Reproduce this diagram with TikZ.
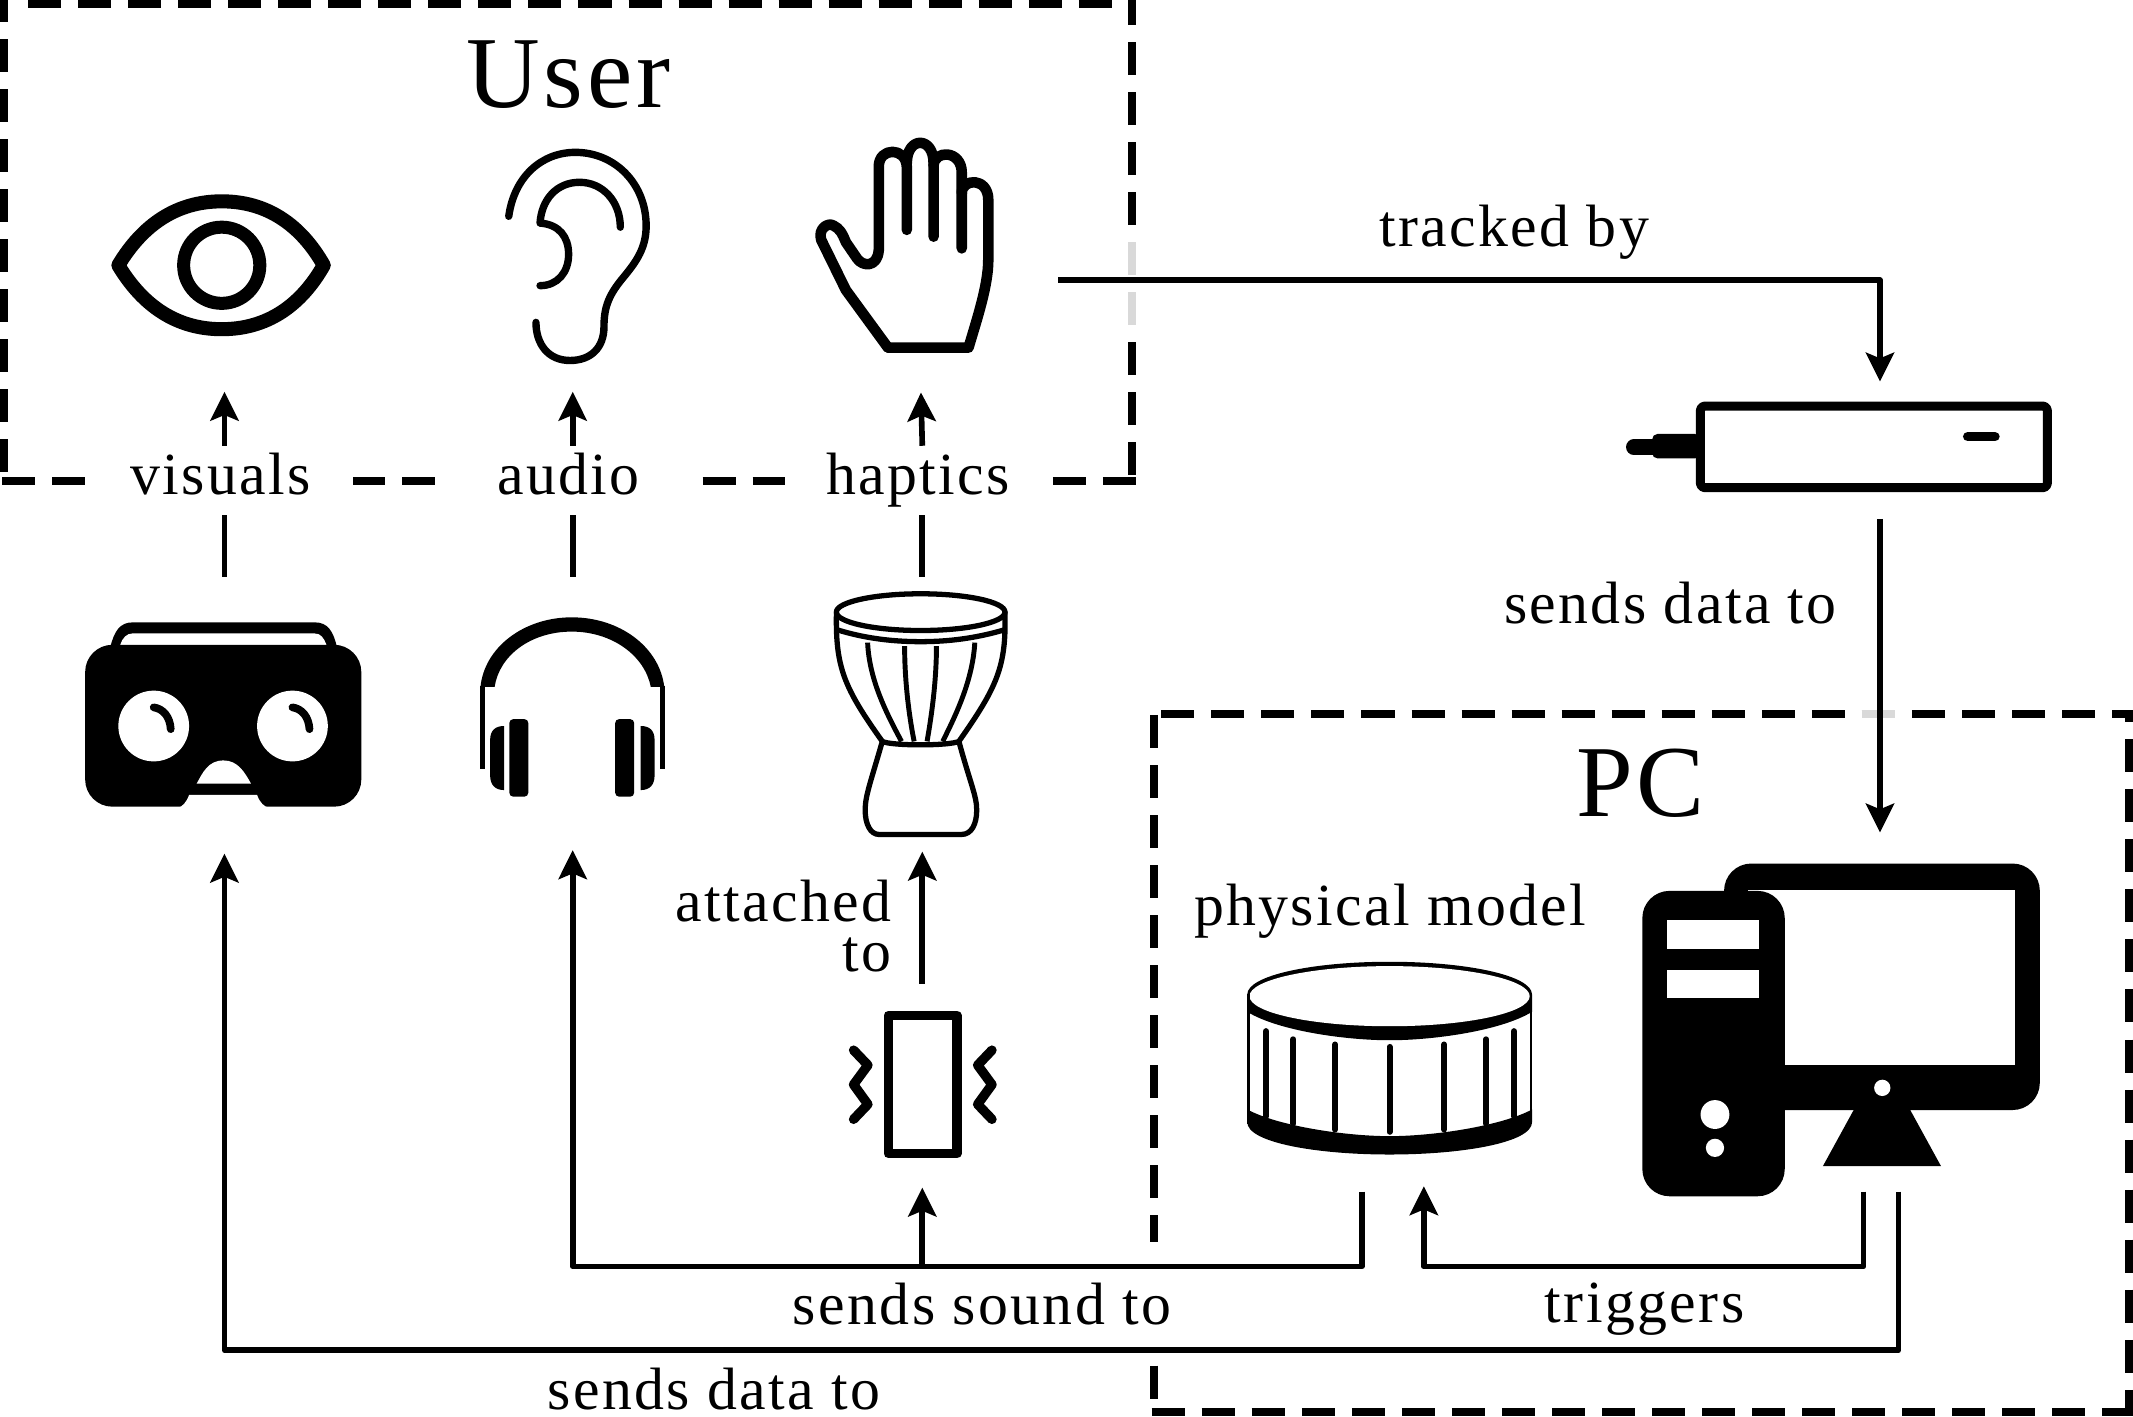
\documentclass[tikz,border=0pt]{standalone}
\usepackage{fontspec}
\setmainfont{Liberation Serif}[LetterSpace=4]
\usetikzlibrary{arrows.meta}
\newcommand{\un}{0.013603cm}

\tikzset{
conn/.style={line width=1.6pt},
dashbox/.style={line width=2.28pt, dash pattern=on 9.39pt off 4.84pt},
greydash/.style={line width=2.28pt, black!15},
icon/.style 2 args={inner sep=0pt, outer sep=0pt, minimum width=#1*\un, minimum height=#2*\un},
lab/.style={inner sep=0pt, font=\fontsize{17}{14.3}\selectfont},
bigtxt/.style={inner sep=0pt, font=\fontsize{29}{30}\selectfont},
gaplab/.style={lab, fill=white, text height=12pt, text depth=4pt, minimum width=195.6*\un, minimum height=49.6*\un},
}

\begin{document}
\begin{tikzpicture}[x=\un, y=-\un, >={Stealth[length=8.2pt, width=8pt, inset=1.6pt]}, line join=round]
\useasboundingbox (0,0) rectangle (1568,1041);

% dashed boxes, side by side since the dashes do not run round
\draw [dashbox] (20.6,3) -- (832,3);
\draw [dashbox, dash phase=3.13pt] (3,0) -- (3,353.6);
\draw [dashbox, dash phase=2.28pt] (832,0) -- (832,353.6);
\draw [dashbox] (1.5,353.6) -- (835,353.6);
\draw [greydash] (832,177.9) -- (832,202.2);
\draw [greydash] (832,214.7) -- (832,239);

\draw [dashbox] (853.7,525) -- (1568,525);
\draw [dashbox] (848.6,525.6) -- (848.6,1038);
\draw [dashbox, dash phase=7.1pt] (1565,525) -- (1565,1041);
\draw [dashbox] (846.6,1038) -- (1568,1038);
\draw [greydash] (1368.8,525) -- (1393.4,525);

% titles and labels
\node [bigtxt, anchor=base] (usertitle) at (418,78.7) {User};
\node [bigtxt, anchor=base] (pctitle) at (1206,600) {PC};
\node [gaplab] (visuals) at (162,353) {visuals};
\node [gaplab] (audio) at (418,353) {audio};
\node [gaplab] (haptics) at (675,353) {haptics};
\node [lab, anchor=base] (trackedlab) at (1113,181) {tracked by};
\node [lab, anchor=base] (sendslab) at (1228,458.5) {sends data to};
\node [lab, anchor=south east, align=right] (attachedlab) at (656,715) {attached\\to};
\node [lab, anchor=base] (modellab) at (1022,680) {physical model};
\node [lab, anchor=base, fill=white, minimum height=86.4*\un, text height=14pt] (soundlab) at (722,974) {sends sound to};
\node [lab, anchor=base] (triggerlab) at (1209,972.5) {triggers};
\node [lab, anchor=base] (datalab) at (525,1036.5) {sends data to};

% places the connectors leave from
\node [icon={170}{186}] (eye) at (165,195) {};
\node [icon={170}{186}] (ear) at (421,195) {};
\node [icon={202}{165}] (hand) at (677,206) {};
\node [icon={204}{203.5}] (vr) at (165,525.75) {};
\node [icon={136}{201}] (phones) at (421,524.5) {};
\node [icon={128}{202}] (drum) at (678,525) {};
\node [icon={120}{150}] (shaker) at (678,798) {};
\node [icon={262}{101}] (tracker) at (1382,331) {};
\node [icon={292}{264}] (pc) at (1382,744) {};
\coordinate (modelout) at (1001,876);
\coordinate (modelin) at (1046.7,872);
\coordinate (pcout) at (1370,876);
\coordinate (pcdata) at (1395.6,876);
\coordinate (soundbus) at (678,931);
\coordinate (trigbus) at (1200,931);
\coordinate (databus) at (800,992.6);

% eye
\draw [line width=4pt] (87,195) .. controls (105,165) and (130,148) .. (163,148)
.. controls (196,148) and (221,165) .. (238,195)
.. controls (221,225) and (196,242) .. (163,242)
.. controls (130,242) and (105,225) .. (87,195) -- cycle;
\draw [line width=3.7pt] (163,195) circle (28);

% ear
\draw [line width=2.1pt, line cap=round] (374,159) .. controls (378,130) and (398,112) .. (423,112)
.. controls (452,112) and (475,135) .. (475,166)
.. controls (475,182) and (468,192) .. (459,203)
.. controls (448,216) and (444,225) .. (444,240)
.. controls (444,256) and (434,265) .. (419,265)
.. controls (403,265) and (394,253) .. (394,237);
\draw [line width=2.1pt, line cap=round] (456,167) .. controls (456,148) and (443,134) .. (426,134)
.. controls (409,134) and (398,147) .. (397,164)
.. controls (411,165) and (418,174) .. (418,187)
.. controls (418,200) and (410,210) .. (397,210);

% hand
\draw [line width=3pt, line cap=round] (652.7,255.5) -- (621.8,213.2) -- (603.7,176.4)
.. controls (601,168) and (609,163) .. (613,166)
.. controls (617,168) and (619,171) .. (621.8,178) -- (630,190)
.. controls (634,196) and (645,197) .. (646,183.8) -- (646,122.5)
.. controls (646,108) and (666,108) .. (666.6,122.5) -- (666.6,169);
\draw [line width=3pt, line cap=round] (666.6,120) .. controls (666.6,100) and (686.3,100) .. (686.3,120) -- (686.3,174);
\draw [line width=3pt, line cap=round] (686.3,122) .. controls (686.3,110) and (707,110) .. (707,127) -- (707,182.6);
\draw [line width=3pt, line cap=round] (707,142) .. controls (707,131) and (726.5,130) .. (726.5,147) -- (726.5,191)
.. controls (726.5,210) and (718,235) .. (712,255.5) -- (652.7,255.5);

% headset
\fill (81,476) .. controls (84,464) and (88,457.5) .. (97.7,457.5) -- (231.4,457.5) .. controls (241,457.5) and (245,464) .. (247.8,476) -- cycle;
\fill [white] (88.4,474) .. controls (90,469) and (93,465.6) .. (97.7,465.6) -- (231,465.6) .. controls (236,465.6) and (238,469) .. (240,474) -- cycle;
\fill [rounded corners=20*\un] (62.6,474) rectangle (265.6,593);
\fill [white] (130.6,594) .. controls (134,593) and (137,590) .. (139,584.4) -- (189,584.4) .. controls (191,590) and (194,593) .. (198,594) -- cycle;
\fill [white] (113,533.7) circle (26) (215,533.7) circle (26);
\fill [white] (144.6,576) .. controls (149,568) and (153,559) .. (164.3,559) .. controls (175,559) and (180,568) .. (184.5,576) -- cycle;
\draw [line width=2.2pt, line cap=round] (113,520) .. controls (120,521) and (125,527) .. (125.5,536);
\draw [line width=2.2pt, line cap=round] (215,520) .. controls (222,521) and (227,527) .. (227.5,536);

% headphones
\fill (353.2,505) .. controls (356,476) and (385,453.8) .. (420.3,453.8) .. controls (456,453.8) and (485,476) .. (488.3,505) -- (478.4,505)
.. controls (474,482) and (450,464.3) .. (420.3,464.3) .. controls (390,464.3) and (367,482) .. (363.6,505) -- cycle;
\draw [line width=1.6pt] (354.6,504) -- (354.6,565.6);
\draw [line width=1.6pt] (486.9,504) -- (486.9,565.6);
\fill [rounded corners=3*\un] (374.4,528.6) rectangle (388.4,585.7);
\fill [rounded corners=3*\un] (452.2,528.6) rectangle (466.2,585.7);
\fill (370.6,533.7) -- (370.6,580.8) .. controls (364,580.8) and (360.3,577) .. (360.3,570) -- (360.3,544) .. controls (360.3,537) and (364,533.7) .. (370.6,533.7) -- cycle;
\fill (471,533.7) -- (471,580.8) .. controls (477.6,580.8) and (481.2,577) .. (481.2,570) -- (481.2,544) .. controls (481.2,537) and (477.6,533.7) .. (471,533.7) -- cycle;

% djembe
\draw [line width=1.5pt] (676.8,450) ellipse (62 and 13.5);
\draw [line width=1.5pt] (615.5,463) .. controls (635,469) and (655,471.7) .. (676.8,471.7) .. controls (698,471.7) and (718,469) .. (738.3,463);
\draw [line width=1.5pt] (614.9,449.6) .. controls (614,490) and (620,505) .. (648.6,545)
.. controls (655,548.4) and (698,548.4) .. (704.9,545)
.. controls (733,505) and (740,490) .. (738.7,449.6);
\draw [line width=1.5pt] (648.6,545) .. controls (640,575) and (636,585) .. (636,595.5)
.. controls (636,606) and (640,613.4) .. (646,613.4) -- (707,613.4)
.. controls (714,613.4) and (718,606) .. (718,595.5)
.. controls (718,585) and (713,575) .. (704.9,545);
\draw [line width=1.4pt] (637.8,472.4) .. controls (639,500) and (652,525) .. (662.7,545);
\draw [line width=1.4pt] (665,475) .. controls (665,500) and (668,525) .. (672,545);
\draw [line width=1.4pt] (688.4,475) .. controls (688.4,500) and (685,525) .. (681.5,545);
\draw [line width=1.4pt] (716.6,472.4) .. controls (715,500) and (703,525) .. (693,545);

% shaker
\draw [line width=2.7pt] (653,746.5) rectangle (703.5,848);
\draw [line width=2.7pt, line cap=round] (627.5,772) -- (638,783) -- (627.5,797.3) -- (638,811.8) -- (627.5,822.8);
\draw [line width=2.7pt, line cap=round] (729.2,772) -- (718.7,783) -- (729.2,797.3) -- (718.7,811.8) -- (729.2,822.8);

% tracker
\draw [line width=2.55pt, rounded corners=3*\un] (1250,298.5) rectangle (1505,358.5);
\draw [line width=2.7pt, line cap=round] (1446.5,321) -- (1466.5,321);
\fill [rounded corners=4*\un] (1250,319) -- (1214.5,319) -- (1214.5,337) -- (1250,337) -- cycle;
\draw [line width=4.4pt, line cap=round] (1201,328.7) -- (1216,328.7);

% physical model
\fill (916.9,731) .. controls (916.9,717) and (965,707) .. (1021.5,707) .. controls (1078,707) and (1126.2,717) .. (1126.2,731) -- (1126.2,743.8)
.. controls (1103,758) and (1053,764.7) .. (1021.5,764.7) .. controls (990,764.7) and (940,758) .. (916.9,743.8) -- cycle;
\fill [white] (1021.5,732.3) ellipse (103 and 22.1);
\draw [line width=0.8pt] (917.7,731) -- (917.7,826);
\draw [line width=0.8pt] (1125.4,731) -- (1125.4,826);
\fill (916.9,815.6) .. controls (940,828) and (990,835.2) .. (1021.5,835.2) .. controls (1053,835.2) and (1103,828) .. (1126.2,815.6) -- (1126.2,825)
.. controls (1126.2,840) and (1075,848.7) .. (1021.5,848.7) .. controls (968,848.7) and (916.9,840) .. (916.9,825) -- cycle;
\foreach \xa/\ya/\yb in {930.7/758/820.6, 950.7/764/826, 981.5/767.8/830.3, 1021.5/769.6/832, 1061.6/767.8/830.3, 1092.4/764/826, 1112.9/758/820.6}
\draw [line width=1.7pt, line cap=round] (\xa,\ya) -- (\xa,\yb);

% computer
\fill [rounded corners=20*\un] (1267.4,634.8) rectangle (1499.5,816);
\fill [white] (1285,654.4) rectangle (1481.3,783);
\fill (1363.2,815) -- (1403.7,815) -- (1426.9,857.3) -- (1340,857.3) -- cycle;
\fill [rounded corners=20*\un] (1207.3,654.9) rectangle (1312,879.4);
\fill [white] (1225.6,676.4) rectangle (1293.3,697.3);
\fill [white] (1225.6,713.2) rectangle (1293.3,734);
\fill [white] (1260.7,819.3) circle (10.6);
\fill [white] (1260.7,843.8) circle (6.7);
\fill [white] (1383.7,799.7) circle (6);

% connectors
\draw [conn] (vr.north) -- (vr.north |- visuals.south);
\draw [conn,->] (vr.north |- visuals.north) -- (eye.south);
\draw [conn] (phones.north) -- (phones.north |- audio.south);
\draw [conn,->] (phones.north |- audio.north) -- (ear.south);
\draw [conn] (drum.north) -- (drum.north |- haptics.south);
\draw [conn,->] (drum.north |- haptics.north) -- (hand.south);
\draw [conn,->] (hand.east) -| (tracker.north);
\draw [conn,->] (tracker.south) -- (pc.north);
\draw [conn,->] (shaker.north) -- (drum.south);
\draw [conn,->] (modelout) |- (soundbus) -| (phones.south);
\draw [conn,->] (soundbus) -- (shaker.south);
\draw [conn,->] (pcout) |- (trigbus) -| (modelin);
\draw [conn,->] (pcdata) |- (databus) -| (vr.south);
\end{tikzpicture}
\end{document}
